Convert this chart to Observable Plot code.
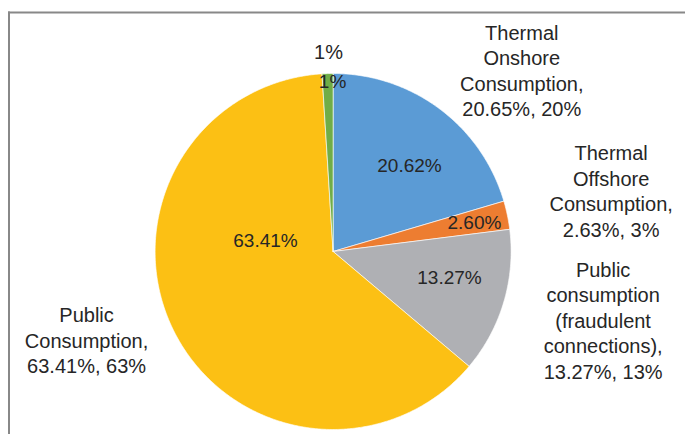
<!DOCTYPE html>
<html>
<head>
<meta charset="utf-8">
<script src="https://cdn.jsdelivr.net/npm/d3@7"></script>
<script src="https://cdn.jsdelivr.net/npm/@observablehq/plot@0.6"></script>
<style>
  html, body { margin: 0; padding: 0; background: #fff; }
  #chart svg { display: block; }
</style>
</head>
<body>
<div id="chart"></div>
<script>
// ---- data ----
const categories = [
  "Thermal Onshore Consumption",
  "Thermal Offshore Consumption",
  "Public consumption (fraudulent connections)",
  "Public Consumption",
  "Other"
];
const values = [20.62, 2.60, 13.27, 63.41, 1.0];
const colors = ["#5B9BD5", "#ED7D31", "#AFB0B4", "#FCC014", "#70AD47"];
const insideLabels = ["20.62%", "2.60%", "13.27%", "63.41%", "1%"];
const outsideLabels = [
  "Thermal\nOnshore\nConsumption,\n20.65%, 20%",
  "Thermal\nOffshore\nConsumption,\n2.63%, 3%",
  "Public\nconsumption\n(fraudulent\nconnections),\n13.27%, 13%",
  "Public\nConsumption,\n63.41%, 63%",
  "1%"
];
// label layout, in units of the pie radius (x right, y up)
const insidePos = [[0.429, 0.483], [0.794, 0.160], [0.654, -0.149], [-0.380, 0.062], [-0.003, 0.952]];
const outsidePos = [[1.060, 1.020], [1.562, 0.343], [1.517, -0.382], [-1.385, -0.494], [-0.026, 1.129]];

// ---- build slices ----
const total = d3.sum(values);
let acc = 0;
const slicePts = [];
categories.forEach((name, i) => {
  const a0 = acc / total * 2 * Math.PI;
  acc += values[i];
  const a1 = acc / total * 2 * Math.PI;
  const n = Math.max(2, Math.ceil((a1 - a0) / (Math.PI / 360)));
  slicePts.push({name, u: 0, v: 0});
  for (let k = 0; k <= n; k++) {
    const a = a0 + (a1 - a0) * k / n;
    slicePts.push({name, u: Math.sin(a), v: Math.cos(a)});
  }
  slicePts.push({name, u: 0, v: 0});
});

const inside = categories.map((name, i) => ({name, text: insideLabels[i], u: insidePos[i][0], v: insidePos[i][1]}));
const outside = categories.map((name, i) => ({name, text: outsideLabels[i], u: outsidePos[i][0], v: outsidePos[i][1]}));

const cx = 332.6, cy = 251, R = 178;
const font = "'Liberation Sans', Arial, sans-serif";

const chart = Plot.plot({
  width: 685,
  height: 434,
  marginLeft: 8.5,
  marginTop: 12,
  marginRight: 0,
  marginBottom: 0,
  style: {fontFamily: font, background: "#fff"},
  x: {domain: [-1, 1], range: [cx - R, cx + R], axis: null},
  y: {domain: [-1, 1], range: [cy + R, cy - R], axis: null},
  color: {domain: categories, range: colors},
  marks: [
    Plot.frame({anchor: "left", stroke: "#888", strokeWidth: 2}),
    Plot.frame({anchor: "top", stroke: "#888", strokeWidth: 2}),
    Plot.line(slicePts, {x: "u", y: "v", z: "name", fill: "name", stroke: "#fff", strokeWidth: 0.8, strokeOpacity: 0.8, curve: "linear-closed"}),
    Plot.text(inside, {x: "u", y: "v", text: "text", fill: "#262626", fontSize: 19, textAnchor: "middle", lineAnchor: "middle"}),
    Plot.text(outside, {x: "u", y: "v", text: "text", fill: "#262626", fontSize: 20, textAnchor: "middle", lineAnchor: "middle", lineHeight: 1.275})
  ]
});
document.getElementById("chart").appendChild(chart);
</script>
</body>
</html>
